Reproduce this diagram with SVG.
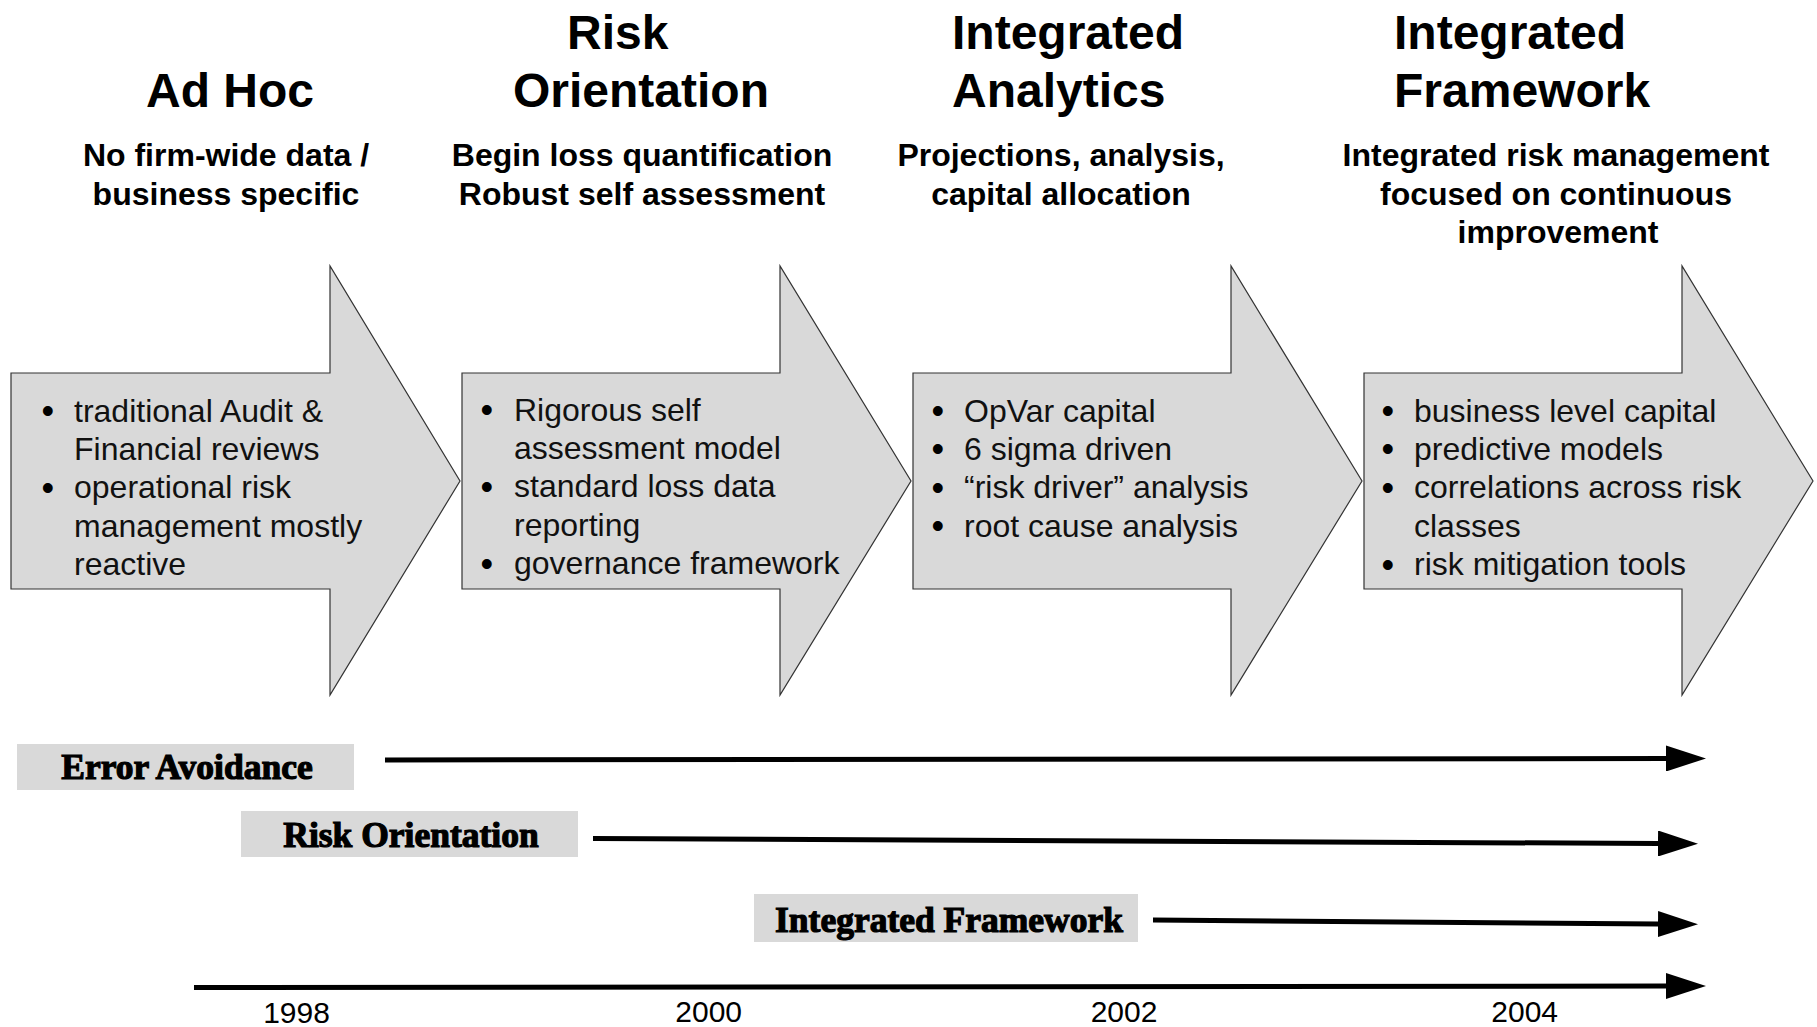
<svg xmlns="http://www.w3.org/2000/svg" width="1817" height="1027" viewBox="0 0 1817 1027">
  <style>
    .head { font-family: "Liberation Sans", Arial, sans-serif; font-weight: bold; font-size: 48px; fill: #000; }
    .sub { font-family: "Liberation Sans", Arial, sans-serif; font-weight: bold; font-size: 32px; fill: #000; text-anchor: middle; }
    .item { font-family: "Liberation Sans", Arial, sans-serif; font-size: 32px; fill: #111; }
    .dot { font-size: 36px; fill: #000; }
    .stage { fill: #d9d9d9; stroke: #333; stroke-width: 1.2; stroke-linejoin: miter; }
    .band { fill: #d9d9d9; }
    .bandtext { font-family: "Liberation Serif", "Times New Roman", serif; font-weight: bold; font-size: 35.5px; fill: #000; stroke: #000; stroke-width: 1.2; text-anchor: middle; }
    .year { font-family: "Liberation Sans", Arial, sans-serif; font-size: 30px; fill: #000; text-anchor: middle; }
    .flow { stroke: #000; stroke-width: 5; fill: none; marker-end: url(#tip); }
  </style>
  <defs>
    <marker id="tip" markerUnits="userSpaceOnUse" markerWidth="40" markerHeight="26" viewBox="0 0 40 26" refX="0" refY="13" orient="auto">
      <path d="M0,0 L40,13 L0,26 z" fill="#000"/>
    </marker>
  </defs>
  <rect width="1817" height="1027" fill="#fff"/>

  <!-- Stage 1: Ad Hoc -->
  <g id="stage-adhoc">
    <text class="head" x="146" y="107">Ad Hoc</text>
    <text class="sub" x="226" y="166">No firm-wide data /</text>
    <text class="sub" x="226" y="204.5">business specific</text>
    <polygon class="stage" points="11,373 330,373 330,266 460,481 330,695 330,589 11,589"/>
    <text class="item" y="421.5"><tspan class="dot" x="41.4" dy="1.5">•</tspan><tspan x="74" dy="-1.5">traditional Audit &amp;</tspan></text>
    <text class="item" x="74" y="459.9">Financial reviews</text>
    <text class="item" y="498.3"><tspan class="dot" x="41.4" dy="1.5">•</tspan><tspan x="74" dy="-1.5">operational risk</tspan></text>
    <text class="item" x="74" y="536.7">management mostly</text>
    <text class="item" x="74" y="575.1">reactive</text>
  </g>

  <!-- Stage 2: Risk Orientation -->
  <g id="stage-risk-orientation">
    <text class="head" x="567" y="49">Risk</text>
    <text class="head" x="513" y="107">Orientation</text>
    <text class="sub" x="642" y="166">Begin loss quantification</text>
    <text class="sub" x="642" y="204.5">Robust self assessment</text>
    <polygon class="stage" points="462,373 780,373 780,266 911,481 780,695 780,589 462,589"/>
    <text class="item" y="420.5"><tspan class="dot" x="480.4" dy="1.5">•</tspan><tspan x="514" dy="-1.5">Rigorous self</tspan></text>
    <text class="item" x="514" y="458.9">assessment model</text>
    <text class="item" y="497.3"><tspan class="dot" x="480.4" dy="1.5">•</tspan><tspan x="514" dy="-1.5">standard loss data</tspan></text>
    <text class="item" x="514" y="535.7">reporting</text>
    <text class="item" y="574.1"><tspan class="dot" x="480.4" dy="1.5">•</tspan><tspan x="514" dy="-1.5">governance framework</tspan></text>
  </g>

  <!-- Stage 3: Integrated Analytics -->
  <g id="stage-integrated-analytics">
    <text class="head" x="952" y="49">Integrated</text>
    <text class="head" x="952" y="107">Analytics</text>
    <text class="sub" x="1061" y="166">Projections, analysis,</text>
    <text class="sub" x="1061" y="204.5">capital allocation</text>
    <polygon class="stage" points="913,373 1231,373 1231,266 1362,481 1231,695 1231,589 913,589"/>
    <text class="item" y="421.5"><tspan class="dot" x="931.4" dy="1.5">•</tspan><tspan x="964" dy="-1.5">OpVar capital</tspan></text>
    <text class="item" y="459.9"><tspan class="dot" x="931.4" dy="1.5">•</tspan><tspan x="964" dy="-1.5">6 sigma driven</tspan></text>
    <text class="item" y="498.3"><tspan class="dot" x="931.4" dy="1.5">•</tspan><tspan x="964" dy="-1.5">“risk driver” analysis</tspan></text>
    <text class="item" y="536.7"><tspan class="dot" x="931.4" dy="1.5">•</tspan><tspan x="964" dy="-1.5">root cause analysis</tspan></text>
  </g>

  <!-- Stage 4: Integrated Framework -->
  <g id="stage-integrated-framework">
    <text class="head" x="1394" y="49">Integrated</text>
    <text class="head" x="1394" y="107">Framework</text>
    <text class="sub" x="1556" y="166">Integrated risk management</text>
    <text class="sub" x="1556" y="204.5">focused on continuous</text>
    <text class="sub" x="1558" y="243">improvement</text>
    <polygon class="stage" points="1364,373 1682,373 1682,266 1813,481 1682,695 1682,589 1364,589"/>
    <text class="item" y="421.5"><tspan class="dot" x="1381.4" dy="1.5">•</tspan><tspan x="1414" dy="-1.5">business level capital</tspan></text>
    <text class="item" y="459.9"><tspan class="dot" x="1381.4" dy="1.5">•</tspan><tspan x="1414" dy="-1.5">predictive models</tspan></text>
    <text class="item" y="498.3"><tspan class="dot" x="1381.4" dy="1.5">•</tspan><tspan x="1414" dy="-1.5">correlations across risk</tspan></text>
    <text class="item" x="1414" y="536.7">classes</text>
    <text class="item" y="575.1"><tspan class="dot" x="1381.4" dy="1.5">•</tspan><tspan x="1414" dy="-1.5">risk mitigation tools</tspan></text>
  </g>

  <!-- Timeline bands -->
  <g id="band-error-avoidance">
    <rect class="band" x="17" y="744" width="337" height="46"/>
    <text class="bandtext" x="187" y="778.5">Error Avoidance</text>
  </g>
  <g id="band-risk-orientation">
    <rect class="band" x="241" y="811" width="337" height="46"/>
    <text class="bandtext" x="411" y="846.5">Risk Orientation</text>
  </g>
  <g id="band-integrated-framework">
    <rect class="band" x="754" y="894" width="384" height="48"/>
    <text class="bandtext" x="949" y="931.5">Integrated Framework</text>
  </g>

  <!-- Connectors -->
  <g id="connectors">
    <line class="flow" x1="385" y1="760" x2="1666" y2="758.5"/>
    <line class="flow" x1="593" y1="838.5" x2="1658" y2="843.5"/>
    <line class="flow" x1="1153" y1="920" x2="1658" y2="924"/>
    <line class="flow" x1="194" y1="987.5" x2="1666" y2="986"/>
  </g>

  <!-- Axis years -->
  <g id="years">
    <text class="year" x="296.5" y="1023">1998</text>
    <text class="year" x="708.7" y="1022">2000</text>
    <text class="year" x="1124" y="1022">2002</text>
    <text class="year" x="1524.7" y="1021.5">2004</text>
  </g>
</svg>
